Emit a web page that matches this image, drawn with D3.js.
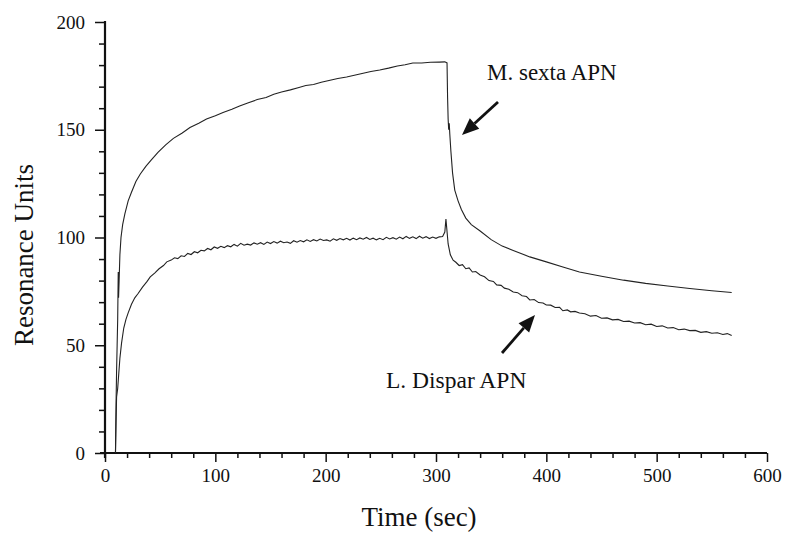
<!DOCTYPE html>
<html><head><meta charset="utf-8">
<script src="https://cdn.jsdelivr.net/npm/d3@7"></script>
<style>
body{margin:0;background:#fff;}
svg{display:block;}
text{font-family:"Liberation Serif","Times New Roman",serif;fill:#111;}
</style></head>
<body><svg id="chart" width="787" height="535"></svg>
<script>
// ---- data ----
const xTicksMajor = [0,100,200,300,400,500,600];
const yTicksMajor = [0,50,100,150,200];
const xLabel = "Time (sec)";
const yLabel = "Resonance Units";

const msextaTime = [9.5,10,10.5,11,11.5,12,12.3,12.8,13.5,14.5,16,18,21,24,28,32,37,42,48,55,62,70,77,85,92,100,107,115,122,130,138,146,153,160,168,175,182,189,196,204,211,219,226,234,241,249,257,265,272,279,287,295,303,308,310,310.5,311,311.5,312,312.5,313.5,315,317,320,323,327,332,340,350,360,370,385,400,415,430,450,470,490,510,530,550,568];
const msextaRU   = [0,22,38,50,62,84,72,80,92,100,106,111,117,121,126,129.5,133,136,139.5,143,146,148.5,151,153,155,156.5,158,159.5,161,162.5,164,165,166.5,167.5,168.5,169.5,170.5,171,172,173,173.8,174.5,175.3,176.2,177,177.7,178.6,179.6,180.2,181,181,181.3,181.4,181.5,181,165,155,150,153,148,140,130,122,117,113,109,106,103,99,96,94,91,88.7,86.3,84,82,80.2,78.7,77.5,76.3,75.3,74.5];

const ldisparTime = [9.5,10,10.5,11.5,12.5,13.5,15,17,19,21,24,27,30,34,38,41,45,49,53,56,
  60,63,66,69,72,75,78,81,84,87,90,93,96,99,102,105,108,111,114,117,120,123,126,129,132,135,138,141,144,147,150,153,156,159,162,165,168,171,174,177,180,183,186,189,192,195,198,201,204,207,210,213,216,219,222,225,228,231,234,237,240,243,246,249,252,255,258,261,264,267,270,273,276,279,282,285,288,291,294,297,300,303,306,308,309,
  311,313,315.5,318,321,324,327,330,333,336,340,344,348,352,355,359,362,366,370,374,378,382,385,389,393,397,400,404,408,412,415,419,422,426,430,435,440,445,450,455,460,465,470,475,480,485,490,495,500,505,510,515,520,525,530,535,540,545,550,555,560,564,568];
const ldisparRU   = [0,14,26,30,37,44,51,58,62,65,69,72,74,77,79.5,81.7,83.5,85.5,87,88.7,
  89.5,90.6,90.2,91.5,91.2,92.6,92.1,93.4,92.9,94.1,93.8,94.9,94.3,95.6,95.0,95.9,95.3,96.2,95.7,96.8,96.0,97.3,96.4,96.9,96.5,97.5,96.9,97.6,96.8,97.9,97.2,98.1,97.4,98.3,97.6,97.9,97.3,98.5,97.8,98.6,98.0,98.9,98.2,99.0,98.4,99.3,98.6,98.9,98.3,99.4,98.7,99.5,98.9,99.6,98.8,99.7,99.0,99.8,99.2,100.0,99.1,99.7,98.9,99.6,99.0,100.1,99.3,99.9,99.2,100.2,99.4,100.5,99.6,100.3,99.5,100.6,99.7,100.4,99.5,100.2,99.6,100.3,100.5,102.5,108.6,
  97,92,89.5,88.5,87,87.4,85.5,85.9,84,84.2,82.6,81.8,80.0,79.6,78.0,77.8,76.5,76.0,74.7,74.4,73.0,72.6,71.0,71.2,69.8,69.6,68.7,68.6,67.5,67.6,66.0,66.4,65.5,65.7,65.0,64.6,63.5,63.8,62.5,62.7,61.8,62.0,61.0,61.2,60.3,60.5,59.5,59.8,58.7,59.0,58.0,58.2,57.2,57.5,56.8,56.9,56.0,56.3,55.6,55.8,55.0,55.4,54.5];

const annoMsexta = "M. sexta APN";
const annoLdispar = "L. Dispar APN";

// ---- drawing ----
const svg = d3.select("#chart");
const x = d3.scaleLinear().domain([0,600]).range([105,767]);
const y = d3.scaleLinear().domain([0,200]).range([453,22]);

const xMinor = d3.range(0,601,20).filter(v=>v%100!==0);
const yMinor = d3.range(0,201,10).filter(v=>v%50!==0);

const gx = svg.append("g").attr("transform",`translate(0,${y(0)})`);
gx.call(d3.axisBottom(x).tickValues(xMinor).tickSize(5).tickSizeOuter(0).tickFormat(""));
gx.selectAll(".tick line").attr("stroke","#111").attr("stroke-width",1.5);
const gx2 = svg.append("g").attr("transform",`translate(0,${y(0)})`);
gx2.call(d3.axisBottom(x).tickValues(xTicksMajor).tickSize(9).tickSizeOuter(0).tickPadding(7));
gx2.selectAll(".tick line").attr("stroke","#111").attr("stroke-width",1.5);
gx2.selectAll(".tick text").style("font-size","19px").style("font-family","Liberation Serif");

const gy = svg.append("g").attr("transform",`translate(${x(0)},0)`);
gy.call(d3.axisLeft(y).tickValues(yMinor).tickSize(6).tickSizeOuter(0).tickFormat(""));
gy.selectAll(".tick line").attr("stroke","#111").attr("stroke-width",1.5);
const gy2 = svg.append("g").attr("transform",`translate(${x(0)},0)`);
gy2.call(d3.axisLeft(y).tickValues(yTicksMajor).tickSize(10).tickSizeOuter(0).tickPadding(10));
gy2.selectAll(".tick line").attr("stroke","#111").attr("stroke-width",1.5);
gy2.selectAll(".tick text").style("font-size","19px").style("font-family","Liberation Serif");
svg.selectAll(".domain").remove();

// axis lines
svg.append("line").attr("x1",x(0)-5).attr("x2",x(600)).attr("y1",y(0)).attr("y2",y(0)).attr("stroke","#111").attr("stroke-width",2.2);
svg.append("line").attr("x1",x(0)).attr("x2",x(0)).attr("y1",y(0)+5).attr("y2",y(200)-1).attr("stroke","#111").attr("stroke-width",2.2);

// curves
const line = d3.line().x(d=>x(d[0])).y(d=>y(d[1]));
const s1 = msextaTime.map((t,i)=>[t,msextaRU[i]]);
const s2 = ldisparTime.map((t,i)=>[t,ldisparRU[i]]);
svg.append("path").datum(s1).attr("d",line).attr("fill","none").attr("stroke","#222").attr("stroke-width",1.1);
svg.append("path").datum(s2).attr("d",line).attr("fill","none").attr("stroke","#222").attr("stroke-width",1.1);

// axis titles
svg.append("text").attr("x",419).attr("y",526).attr("text-anchor","middle").style("font-size","27px").text(xLabel);
svg.append("text").attr("transform","translate(33,255) rotate(-90)").attr("text-anchor","middle").style("font-size","27px").text(yLabel);

// annotations
svg.append("text").attr("x",487).attr("y",80).style("font-size","23px").text(annoMsexta);
svg.append("text").attr("x",386).attr("y",388).style("font-size","23.5px").text(annoLdispar);

function arrow(x1,y1,x2,y2){
  const ang = Math.atan2(y2-y1,x2-x1);
  const L=17, W=7;
  const bx = x2 - L*Math.cos(ang), by = y2 - L*Math.sin(ang);
  svg.append("line").attr("x1",x1).attr("y1",y1).attr("x2",bx).attr("y2",by).attr("stroke","#111").attr("stroke-width",2.8);
  const p = [[x2,y2],[bx - W*Math.sin(ang), by + W*Math.cos(ang)],[bx + W*Math.sin(ang), by - W*Math.cos(ang)]];
  svg.append("polygon").attr("points",p.map(d=>d.join(",")).join(" ")).attr("fill","#111");
}
arrow(498,102,462,135);
arrow(502,353,535,315);
</script></body></html>
